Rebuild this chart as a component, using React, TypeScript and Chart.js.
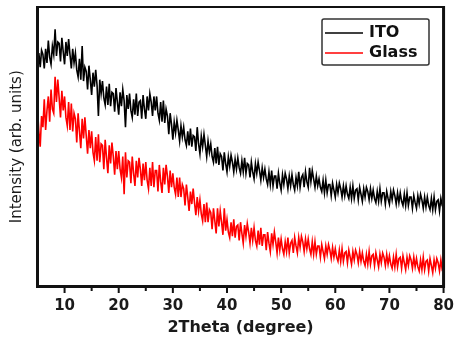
import React, { useEffect, useRef } from "react";
import { Chart, registerables } from "chart.js";

Chart.register(...registerables);

// 2θ scan grid (degrees), 0.25° step from 5 to 80
const scanStart = 5;
const scanStep = 0.25;
const twoTheta: number[] = Array.from({ length: 301 }, (_, i) => scanStart + i * scanStep);

// Intensity (arb. units) (4 readings per degree)
const itoIntensity: number[] = [
  75.5, 83.5, 78.5, 84.5, 83, 78, 85, 80, 88, 82, 79.5, 86, 83, 92, 82.5, 87.5, 87, 80.5, 89, 84,
  79.5, 87.5, 82.5, 88.5, 83, 78, 85, 80, 83.5, 77.5, 75, 81.5, 74, 86, 73.5, 78.5, 77, 70.5, 79, 74,
  68.5, 76.5, 71.5, 77.5, 72, 61, 74, 69, 73.5, 67.5, 65, 71.5, 65, 72.5, 64.5, 69.5, 69, 62.5, 71, 66,
  61.5, 69.5, 64.5, 70.5, 66.5, 57, 68.5, 63.5, 69, 63, 60.5, 67, 61.5, 69, 61, 66, 66.5, 60, 68.5, 63.5,
  60, 68, 63, 69, 66, 61, 68, 63, 68, 62, 59.5, 66, 59, 66.5, 58.5, 63.5, 61, 54.5, 62, 58,
  52.5, 58.8, 55, 59.5, 56, 52, 57.5, 53.5, 57, 52.5, 50.5, 55.5, 50.5, 56.5, 50, 54, 53.5, 48.5, 57, 51,
  47.5, 53.8, 50, 54.5, 50.5, 46.5, 52, 48, 51, 46.5, 44.5, 49.5, 44, 50, 43.5, 47.5, 46.5, 41.5, 48, 44,
  41, 46.4, 43, 47, 44.5, 41, 45.5, 42, 46, 42.5, 40.5, 45, 41, 46, 40.5, 44, 43.5, 39, 44.5, 41,
  38.5, 43.9, 40.5, 44.5, 41.5, 38, 42.5, 39, 42, 38.5, 36.5, 41, 36.5, 41.5, 36, 39.5, 39.5, 35, 40.5, 37,
  34.5, 39.9, 36.5, 40.5, 38.5, 35, 39.5, 36, 40, 36.5, 34.5, 39, 36, 41, 35.5, 39, 40, 35.5, 41, 37.5,
  35.5, 42.5, 37.5, 41.5, 38.5, 35.5, 39.5, 36, 38.5, 35.5, 34, 38, 33.5, 38, 33.5, 36.5, 36.5, 32.5, 37, 34.5,
  32, 36.5, 33.5, 37, 35, 32, 36, 32.5, 36, 33, 31.5, 35.5, 31.5, 36, 31.5, 34.5, 35, 31, 35.5, 33,
  30.5, 35, 32, 35.5, 34, 31, 35, 31.5, 34.5, 31.5, 30, 34, 30.5, 35, 30.5, 33.5, 33.5, 29.5, 34, 31.5,
  29.5, 34, 31, 34.5, 32.5, 29.5, 33.5, 30, 33.5, 30.5, 29, 33, 29, 33.5, 29, 32, 32, 28, 32.5, 30,
  28, 32.5, 29.5, 33, 31, 28, 32, 28.5, 32, 29, 27.5, 31.5, 27.5, 32, 27.5, 30.5, 31, 27, 31.5, 29,
  28,
];

const glassIntensity: number[] = [
  63.5, 55.5, 50, 61, 57, 67, 56, 63, 68, 59, 70.5, 63.5, 62, 75, 66, 74, 67.5, 60.5, 70, 63,
  68, 60.5, 57.5, 66, 56, 65.5, 55.5, 62, 60, 51.5, 62, 55.5, 49.5, 60, 53, 60.5, 54, 47.5, 56, 49.5,
  55.5, 48, 45, 53.5, 45, 54.5, 44.5, 51, 50.5, 42, 52.5, 46, 40.5, 50.5, 44, 51.5, 46.5, 40, 48.5, 42,
  48.5, 42, 39, 46.5, 33, 48, 39, 45, 44.5, 37, 46.5, 40.5, 36, 45, 39, 46, 42, 36, 44, 38,
  44.5, 38, 35, 42.5, 36, 44.5, 35.5, 41.5, 41.5, 34, 43.5, 37.5, 33.5, 42.5, 36.5, 43.5, 39.5, 33.5, 41.5, 35.5,
  40.5, 35.5, 33, 39, 32, 39, 32, 36.5, 35, 29, 36.5, 32, 27, 34, 29.5, 35, 30, 25.5, 32, 27,
  31, 26, 23.5, 29.5, 23, 30, 23, 27.5, 26.5, 20.5, 28, 23.5, 19, 28, 21.5, 27, 23, 18.5, 28, 20,
  24, 19.5, 17.5, 23, 18, 24, 17.5, 21.5, 22, 16.5, 23, 19, 15.5, 22, 18, 22.5, 19.5, 15.5, 21, 16.5,
  21, 16.5, 14.5, 20, 15, 21, 14.5, 18.5, 18.5, 13, 19.5, 15.5, 12.5, 19, 15, 19.5, 16, 12, 17.5, 13,
  17, 13.5, 11.5, 16, 12.5, 17.5, 12, 15.5, 16.5, 12, 17.5, 14.5, 12, 17.5, 14, 18, 16, 12.5, 17, 13.5,
  17, 13.5, 11.5, 16, 11.5, 16, 11.5, 14.5, 14.5, 10.5, 15, 12.5, 10, 14.5, 11.5, 15, 13, 10, 14, 10.5,
  13.5, 10.5, 9, 13, 9, 13.5, 9, 12, 12.5, 8.5, 13, 10.5, 8, 12.5, 9.5, 13, 11.5, 8.5, 12.5, 9,
  12, 9, 7.5, 11.5, 8, 12.5, 8, 11, 11.5, 7.5, 12, 9.5, 7, 11.5, 8.5, 12, 10.5, 7.5, 11.5, 8,
  11, 8, 6.5, 10.5, 7, 11.5, 7, 10, 10.5, 6.5, 11, 8.5, 6, 10.5, 7.5, 11, 9.5, 6.5, 10.5, 7,
  10, 7, 5.5, 9.5, 6, 10.5, 6, 9, 9.5, 5.5, 10, 7.5, 5, 9.5, 6.5, 10, 8.5, 5.5, 9.5, 6,
  6.5,
];

const seriesLabels = ["ITO", "Glass"];
const seriesColors = ["#000000", "#ff0000"];
const xMajorTicks = [10, 20, 30, 40, 50, 60, 70, 80];
const xMinorTicks = [15, 25, 35, 45, 55, 65, 75];
const xTitle = "2Theta (degree)";
const yTitle = "Intensity (arb. units)";

const framePlugin = {
  id: "frame",
  afterDatasetsDraw(chart: any) {
    const { ctx, chartArea } = chart;
    const { left, right, top, bottom } = chartArea;
    const x = chart.scales.x;
    ctx.save();
    ctx.strokeStyle = "#111";
    ctx.lineCap = "butt";
    ctx.lineWidth = 2;
    ctx.beginPath();
    ctx.moveTo(left, top);
    ctx.lineTo(right, top);
    ctx.stroke();
    ctx.lineWidth = 3;
    ctx.beginPath();
    ctx.moveTo(left, top - 1);
    ctx.lineTo(left, bottom + 1.5);
    ctx.moveTo(left - 1.5, bottom);
    ctx.lineTo(right + 1.5, bottom);
    ctx.moveTo(right, top - 1);
    ctx.lineTo(right, bottom + 1.5);
    ctx.stroke();
    ctx.lineWidth = 2;
    ctx.beginPath();
    for (const v of xMajorTicks) {
      const px = x.getPixelForValue(v);
      ctx.moveTo(px, bottom);
      ctx.lineTo(px, bottom + 6.5);
    }
    for (const v of xMinorTicks) {
      const px = x.getPixelForValue(v);
      ctx.moveTo(px, bottom);
      ctx.lineTo(px, bottom + 4.5);
    }
    ctx.stroke();
    ctx.restore();
  },
};

const legendPlugin = {
  id: "boxLegend",
  afterDraw(chart: any) {
    const { ctx } = chart;
    const bx = 322, by = 19, bw = 107, bh = 46;
    ctx.save();
    ctx.strokeStyle = "#333";
    ctx.lineWidth = 1.5;
    ctx.beginPath();
    if (ctx.roundRect) ctx.roundRect(bx, by, bw, bh, 2);
    else ctx.rect(bx, by, bw, bh);
    ctx.stroke();
    chart.data.datasets.forEach((ds: any, i: number) => {
      const ly = 33 + i * 20;
      ctx.strokeStyle = ds.borderColor;
      ctx.lineWidth = 1.5;
      ctx.beginPath();
      ctx.moveTo(325, ly);
      ctx.lineTo(363, ly);
      ctx.stroke();
      ctx.fillStyle = "#111";
      ctx.font = "bold 16px 'DejaVu Sans'";
      ctx.textBaseline = "middle";
      ctx.textAlign = "left";
      ctx.fillText(ds.label, 369, ly);
    });
    ctx.restore();
  },
};

export default function App() {
  const canvasRef = useRef<HTMLCanvasElement | null>(null);

  useEffect(() => {
    document.body.style.margin = "0";
    const canvas = canvasRef.current;
    if (!canvas) return;
    const datasets = [itoIntensity, glassIntensity].map((vals, i) => ({
      label: seriesLabels[i],
      data: vals.map((v, j) => ({ x: twoTheta[j], y: v })),
      borderColor: seriesColors[i],
      backgroundColor: seriesColors[i],
      borderWidth: 1.6,
      pointRadius: 0,
      tension: 0,
    }));
    const chart = new Chart(canvas, {
      type: "line",
      data: { datasets },
      options: {
        animation: false,
        responsive: false,
        maintainAspectRatio: false,
        layout: { padding: { left: 0, right: 9.5, top: 7, bottom: 0 } },
        plugins: { legend: { display: false }, tooltip: { enabled: false } },
        scales: {
          x: {
            type: "linear",
            min: 5,
            max: 80,
            grid: { display: false, drawTicks: false },
            border: { display: false },
            afterBuildTicks: (s: any) => {
              s.ticks = xMajorTicks.map((v) => ({ value: v }));
            },
            afterFit: (s: any) => {
              s.height = 51.5;
            },
            ticks: {
              autoSkip: false,
              maxRotation: 0,
              padding: 11,
              color: "#1a1a1a",
              font: { family: "'DejaVu Sans'", size: 15, weight: "bold" },
            },
            title: {
              display: true,
              text: xTitle,
              color: "#1a1a1a",
              padding: { top: 0, bottom: 1 },
              font: { family: "'DejaVu Sans'", size: 16, weight: "bold" },
            },
          },
          y: {
            min: 0,
            max: 100,
            grid: { display: false, drawTicks: false },
            border: { display: false },
            ticks: { display: false },
            afterFit: (s: any) => {
              s.width = 37.5;
            },
            title: {
              display: true,
              text: yTitle,
              color: "#1a1a1a",
              padding: { top: 8.5, bottom: 0 },
              font: { family: "'DejaVu Sans'", size: 15, weight: "normal" },
            },
          },
        },
      },
      plugins: [framePlugin, legendPlugin],
    });
    return () => chart.destroy();
  }, []);

  return (
    <div style={{ position: "absolute", left: 0, top: 0, width: 465, height: 338, background: "#fff" }}>
      <canvas ref={canvasRef} width={465} height={338} style={{ width: 465, height: 338 }} />
    </div>
  );
}
